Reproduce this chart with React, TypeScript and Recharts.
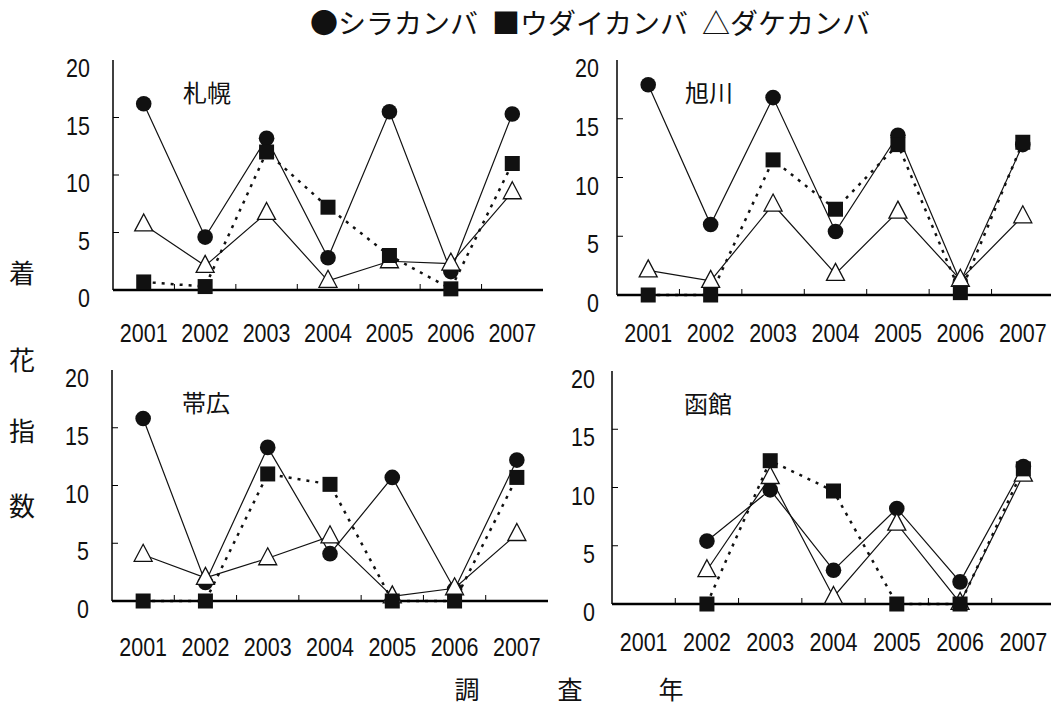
import React from 'react';
import { LineChart, Line, XAxis, YAxis } from 'recharts';

const years = ['2001', '2002', '2003', '2004', '2005', '2006', '2007'];
const yTicks = [0, 5, 10, 15, 20];
const seriesNames = ['シラカンバ', 'ウダイカンバ', 'ダケカンバ'];
const legendGlyphs = ['●', '■', '△'];
const cities = ['札幌', '旭川', '帯広', '函館'];
const yAxisTitle = ['着', '花', '指', '数'];
const xAxisTitle = ['調', '査', '年'];

// 札幌
const sapporoShira = [16.2, 4.6, 13.2, 2.8, 15.5, 1.6, 15.3];
const sapporoUdai = [0.7, 0.3, 12.0, 7.2, 3.0, 0.1, 11.0];
const sapporoDake = [5.7, 2.1, 6.7, 0.8, 2.5, 2.3, 8.5];
// 旭川
const asahikawaShira = [17.9, 6.0, 16.8, 5.4, 13.6, 1.1, 12.8];
const asahikawaUdai = [0.0, 0.0, 11.5, 7.3, 12.8, 0.2, 13.0];
const asahikawaDake = [2.1, 1.2, 7.7, 1.8, 7.1, 1.3, 6.7];
// 帯広
const obihiroShira = [15.8, 1.6, 13.3, 4.1, 10.7, 1.0, 12.2];
const obihiroUdai = [0.0, 0.0, 11.0, 10.1, 0.0, 0.0, 10.7];
const obihiroDake = [4.0, 2.0, 3.7, 5.6, 0.4, 1.1, 5.8];
// 函館
const hakodateShira = [null, 5.4, 9.8, 2.9, 8.2, 1.9, 11.8];
const hakodateUdai = [null, 0.0, 12.3, 9.7, 0.0, 0.0, 11.6];
const hakodateDake = [null, 2.9, 10.9, 0.6, 6.9, 0.1, 11.1];

const buildRows = (a: (number | null)[], b: (number | null)[], c: (number | null)[]) =>
  years.map((y, i) => ({ year: y, shira: a[i], udai: b[i], dake: c[i] }));

const panelData = [
  buildRows(sapporoShira, sapporoUdai, sapporoDake),
  buildRows(asahikawaShira, asahikawaUdai, asahikawaDake),
  buildRows(obihiroShira, obihiroUdai, obihiroDake),
  buildRows(hakodateShira, hakodateUdai, hakodateDake),
];

const geoms = [
  { l: 113, t: 60, r: 543, b: 290, xGap: 43, yGap: 23 },
  { l: 617, t: 60, r: 1054, b: 295, xGap: 38, yGap: 18 },
  { l: 112, t: 370, r: 548, b: 601, xGap: 46, yGap: 23 },
  { l: 612, t: 371, r: 1055, b: 604, xGap: 38, yGap: 17 },
];
const titlePos = [
  { x: 207, y: 92 },
  { x: 709, y: 92 },
  { x: 206, y: 402 },
  { x: 708, y: 403 },
];

const numFont = '"Liberation Sans", Arial, sans-serif';
const jpFont = '"Noto Sans CJK JP", sans-serif';

const CircleDot = (p: any) => {
  if (p.cy == null || p.value == null) return <g key={p.key} />;
  return <circle key={p.key} cx={p.cx} cy={p.cy} r={7.8} fill="#111" />;
};
const SquareDot = (p: any) => {
  if (p.cy == null || p.value == null) return <g key={p.key} />;
  const s = 15;
  return <rect key={p.key} x={p.cx - s / 2} y={p.cy - s / 2} width={s} height={s} fill="#111" />;
};
const TriDot = (p: any) => {
  if (p.cy == null || p.value == null) return <g key={p.key} />;
  const { cx, cy } = p;
  return (
    <path
      key={p.key}
      d={`M${cx},${cy - 10.5} L${cx + 9},${cy + 6.5} L${cx - 9},${cy + 6.5} Z`}
      fill="#fff"
      stroke="#111"
      strokeWidth={1.3}
    />
  );
};

const NumText = ({ x, y, anchor, children }: any) => (
  <text
    transform={`translate(${x},${y}) scale(1,1.18)`}
    dy="0.36em"
    textAnchor={anchor}
    fontFamily={numFont}
    fontSize={21.5}
    fill="#111"
  >
    {children}
  </text>
);

const Panel = ({ idx }: { idx: number }) => {
  const g = geoms[idx];
  const plotW = g.r - g.l;
  const plotH = g.b - g.t;
  const bw = plotW / years.length;
  const width = plotW + 140;
  const height = plotH + 80;
  return (
    <div style={{ position: 'absolute', left: g.l - 100, top: g.t - 20 }}>
      <LineChart
        width={width}
        height={height}
        data={panelData[idx]}
        margin={{ top: 20, right: 40, bottom: 0, left: 0 }}
      >
        <XAxis
          dataKey="year"
          height={60}
          tickSize={0}
          tickMargin={0}
          padding={{ left: bw / 2, right: bw / 2 }}
          axisLine={{ stroke: '#000', strokeWidth: 2.5 }}
          tickLine={false}
          interval={0}
          tick={(p: any) => (
            <g key={`xt${p.index}`}>
              {p.index < years.length - 1 && (
                <line x1={p.x + bw / 2} x2={p.x + bw / 2} y1={p.y} y2={p.y - 6} stroke="#000" strokeWidth={1} />
              )}
              <NumText x={p.x} y={p.y + g.xGap} anchor="middle">
                {p.payload.value}
              </NumText>
            </g>
          )}
        />
        <XAxis
          xAxisId="top"
          orientation="top"
          dataKey="year"
          height={0}
          padding={{ left: bw / 2, right: bw / 2 }}
          tick={false}
          tickLine={false}
          axisLine={{ stroke: '#888', strokeWidth: 1 }}
        />
        <YAxis
          width={100}
          domain={[0, 20]}
          ticks={yTicks}
          interval={0}
          tickSize={0}
          tickMargin={0}
          tickLine={false}
          axisLine={{ stroke: '#000', strokeWidth: 1.5 }}
          tick={(p: any) => (
            <g key={`yt${p.index}`}>
              {p.payload.value !== 0 && p.payload.value !== 20 && (
                <line x1={p.x} x2={p.x + 6} y1={p.y} y2={p.y} stroke="#000" strokeWidth={1} />
              )}
              <NumText x={p.x - g.yGap} y={p.y + 8} anchor="end">
                {p.payload.value}
              </NumText>
            </g>
          )}
        />
        <YAxis
          yAxisId="right"
          orientation="right"
          width={0}
          domain={[0, 20]}
          tick={false}
          tickLine={false}
          axisLine={{ stroke: '#888', strokeWidth: 1 }}
        />
        <Line
          dataKey="shira"
          name={seriesNames[0]}
          stroke="#111"
          strokeWidth={1.2}
          dot={CircleDot}
          activeDot={false}
          isAnimationActive={false}
        />
        <Line
          dataKey="dake"
          name={seriesNames[2]}
          stroke="#111"
          strokeWidth={1.2}
          dot={TriDot}
          activeDot={false}
          isAnimationActive={false}
        />
        <Line
          dataKey="udai"
          name={seriesNames[1]}
          stroke="#111"
          strokeWidth={2.5}
          strokeDasharray="3 6"
          dot={SquareDot}
          activeDot={false}
          isAnimationActive={false}
        />
      </LineChart>
    </div>
  );
};

const yTitlePos = [272, 359, 430, 505];
const xTitlePos = [467, 570, 671];

export default function App() {
  return (
    <div
      style={{
        position: 'absolute',
        left: 0,
        top: 0,
        width: 1051,
        height: 706,
        overflow: 'hidden',
        background: '#fff',
      }}
    >
      <div
        style={{
          position: 'absolute',
          left: 310,
          top: 6,
          fontFamily: jpFont,
          fontSize: 28,
          lineHeight: '32px',
          whiteSpace: 'nowrap',
          color: '#111',
        }}
      >
        {seriesNames.map((n, i) => (
          <span key={n} style={{ marginRight: i < seriesNames.length - 1 ? 14 : 0 }}>
            {legendGlyphs[i]}
            {n}
          </span>
        ))}
      </div>
      {cities.map((c, i) => (
        <Panel key={c} idx={i} />
      ))}
      {cities.map((c, i) => (
        <div
          key={`t${c}`}
          style={{
            position: 'absolute',
            left: titlePos[i].x - 40,
            top: titlePos[i].y - 15,
            width: 80,
            height: 30,
            lineHeight: '30px',
            textAlign: 'center',
            fontFamily: jpFont,
            fontSize: 24,
            color: '#111',
          }}
        >
          {c}
        </div>
      ))}
      {yAxisTitle.map((ch, i) => (
        <div
          key={`y${ch}`}
          style={{
            position: 'absolute',
            left: 7,
            top: yTitlePos[i] - 15,
            width: 30,
            height: 30,
            lineHeight: '30px',
            textAlign: 'center',
            fontFamily: jpFont,
            fontSize: 26,
            color: '#111',
          }}
        >
          {ch}
        </div>
      ))}
      {xAxisTitle.map((ch, i) => (
        <div
          key={`x${ch}`}
          style={{
            position: 'absolute',
            left: xTitlePos[i] - 15,
            top: 688 - 14,
            width: 30,
            height: 28,
            lineHeight: '28px',
            textAlign: 'center',
            fontFamily: jpFont,
            fontSize: 25,
            color: '#111',
          }}
        >
          {ch}
        </div>
      ))}
    </div>
  );
}
